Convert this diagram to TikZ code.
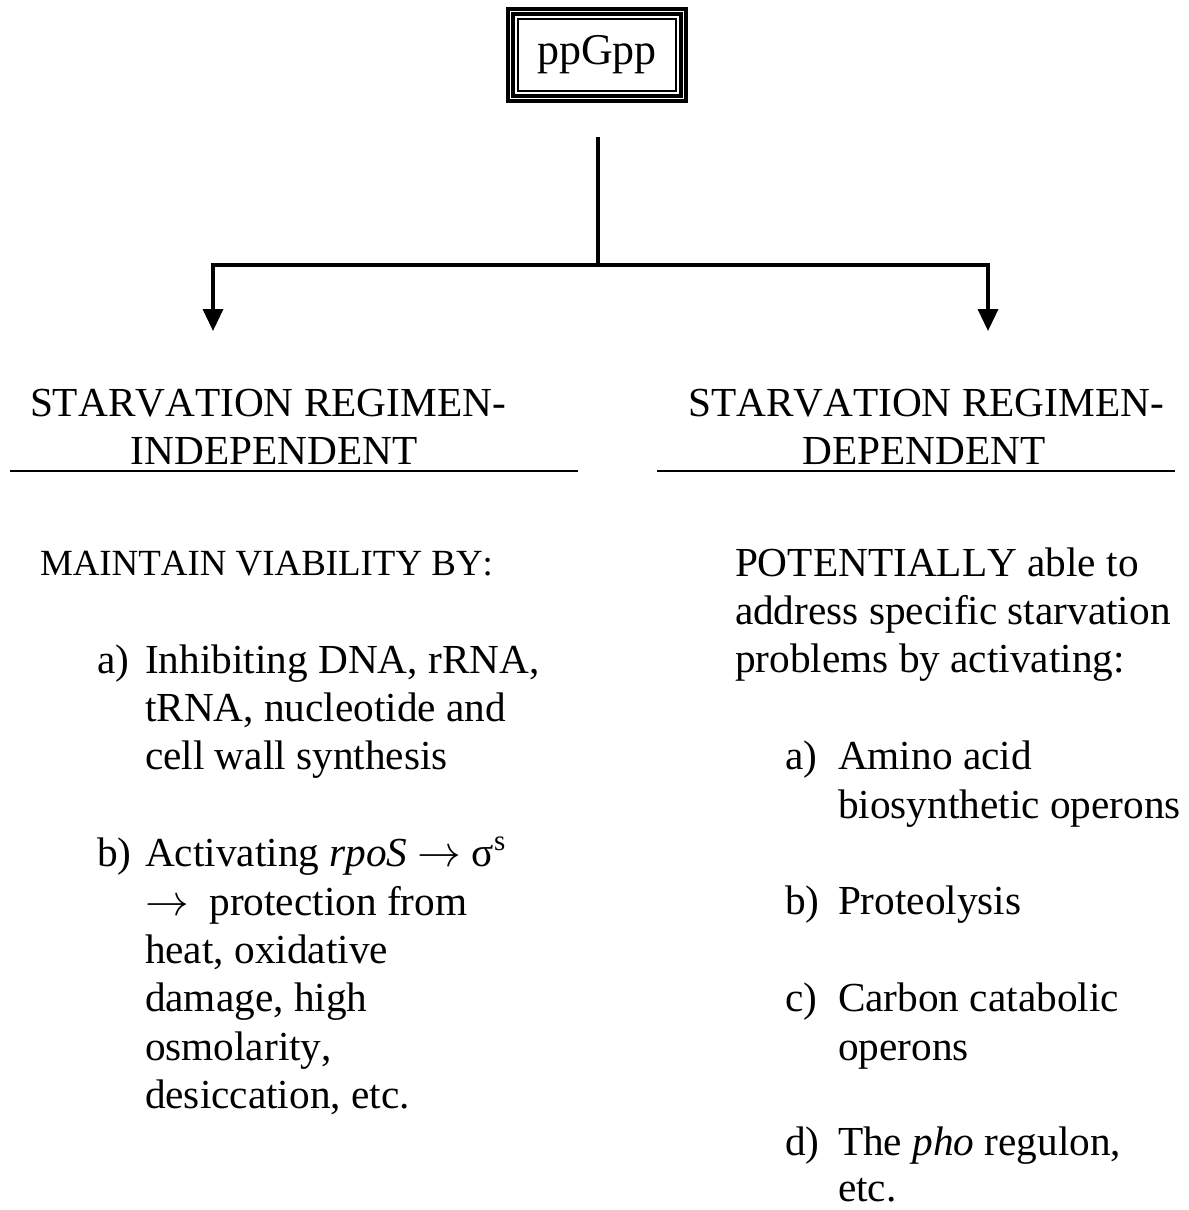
\documentclass[tikz,border=0pt]{standalone}
\usepackage{fontspec}
\setmainfont{Liberation Serif}[Kerning=Off]
\usetikzlibrary{arrows.meta}

\tikzset{
  txt/.style={font=\fontsize{23.5pt}{28pt}\selectfont, anchor=base west, inner sep=0pt, outer sep=0pt},
  smallcaps/.style={font=\fontsize{21pt}{25pt}\selectfont, anchor=base west, inner sep=0pt, outer sep=0pt},
  head/.style={font=\fontsize{23.5pt}{28pt}\selectfont, anchor=base, inner sep=0pt, outer sep=0pt},
  flow/.style={line width=0.07cm},
  flowarrow/.style={flow, -{Triangle[width=0.4cm,length=0.44cm]}},
  rule/.style={line width=0.045cm},
}

\begin{document}
\begin{tikzpicture}[x=0.02cm,y=-0.02cm]
\useasboundingbox (0,0) rectangle (1189,1210);

% framed root node with a triple border
\node[draw, line width=0.03cm, inner sep=0pt, outer sep=0pt,
      minimum width=3.16cm, minimum height=1.44cm,
      font=\fontsize{25pt}{30pt}\selectfont] (root) at (597,55) {ppGpp};
\draw[line width=0.08cm]
  ([shift={(-0.096cm,-0.096cm)}]root.south west) rectangle ([shift={(0.096cm,0.096cm)}]root.north east);
\draw[line width=0.08cm]
  ([shift={(-0.206cm,-0.206cm)}]root.south west) rectangle ([shift={(0.206cm,0.206cm)}]root.north east);

% branching connectors
\coordinate (stem) at (598,137);
\coordinate (fork) at (598,265);
\coordinate (lturn) at (213,265);
\coordinate (rturn) at (988,265);
\coordinate (ltip) at (213,331);
\coordinate (rtip) at (988,331);
\draw[flow] (stem) -- (fork);
\draw[flowarrow, line join=miter] (fork) -- (lturn) -- (ltip);
\draw[flowarrow, line join=miter] (fork) -- (rturn) -- (rtip);

% column headings
\node[head] (lh1) at (268,416) {STARVATION REGIMEN-};
\node[head] (lh2) at (274,464) {INDEPENDENT};
\node[head] (rh1) at (926,416) {STARVATION REGIMEN-};
\node[head] (rh2) at (924,464) {DEPENDENT};
\draw[rule] (10,471) -- (578,471);
\draw[rule] (657,471) -- (1175,471);

% left column
\node[smallcaps] (lintro) at (40,575) {MAINTAIN VIABILITY BY:};

\node[txt] (la) at (97,673) {a)};
\node[txt] (la1) at (145,673) {Inhibiting DNA, rRNA,};
\node[txt] (la2) at (145,721.4) {tRNA, nucleotide and};
\node[txt] (la3) at (145,769.8) {cell wall synthesis};

\node[txt] (lb) at (97,866.6) {b)};
\node[txt] (lb1) at (145,866.6) {Activating \textit{rpoS} $\rightarrow$ σ\textsuperscript{s}};
\node[txt] (lb2) at (145,915) {$\rightarrow$\ \ protection from};
\node[txt] (lb3) at (145,963.4) {heat, oxidative};
\node[txt] (lb4) at (145,1011.8) {damage, high};
\node[txt] (lb5) at (145,1060.2) {osmolarity,};
\node[txt] (lb6) at (145,1108.6) {desiccation, etc.};

% right column
\node[txt] (rintro1) at (735,576) {POTENTIALLY able to};
\node[txt] (rintro2) at (735,624.4) {address specific starvation};
\node[txt] (rintro3) at (735,672.8) {problems by activating:};

\node[txt] (ra) at (785,769.6) {a)};
\node[txt] (ra1) at (838,769.6) {Amino acid};
\node[txt] (ra2) at (838,818) {biosynthetic operons};

\node[txt] (rb) at (785,914.8) {b)};
\node[txt] (rb1) at (838,914.8) {Proteolysis};

\node[txt] (rc) at (785,1011.6) {c)};
\node[txt] (rc1) at (838,1011.6) {Carbon catabolic};
\node[txt] (rc2) at (838,1060) {operons};

\node[txt] (rd) at (785,1155.5) {d)};
\node[txt] (rd1) at (838,1155.5) {The \textit{pho} regulon,};
\node[txt] (rd2) at (838,1201) {etc.};
\end{tikzpicture}
\end{document}
